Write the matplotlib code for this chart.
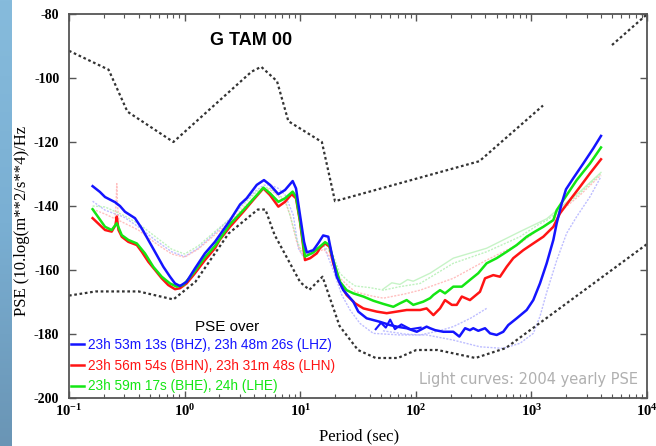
import numpy as np
import matplotlib
matplotlib.use("Agg")
import matplotlib.pyplot as plt
from matplotlib.lines import Line2D
from matplotlib.colors import LinearSegmentedColormap
from matplotlib.ticker import NullFormatter

plt.rcParams['axes.unicode_minus'] = False
plt.rcParams['mathtext.fontset'] = 'custom'
plt.rcParams['mathtext.rm'] = 'Liberation Serif:bold'
plt.rcParams['mathtext.it'] = 'Liberation Serif:bold'
plt.rcParams['mathtext.bf'] = 'Liberation Serif:bold'
plt.rcParams['mathtext.default'] = 'rm'

# noise models (dotted black), nan = gap in the drawn line
nhnm_period = [0.1, 0.22, 0.32, 0.8, 3.8, 4.6, 6.3, 7.9, 15.4, 20, 354.8, 1260, np.nan, 4980, 10000]
nhnm_db = [-91.5, -97.4, -110.5, -120.0, -98.0, -96.5, -101.0, -113.5, -120.0, -138.5, -126.0, -108.6, np.nan, -89.7, -80.1]
nlnm_period = [0.1, 0.17, 0.4, 0.8, 1.24, 2.4, 4.3, 5.0, 6.0, 10.0, 12.0, 15.6, 21.9, 31.6, 45, 70, 101, 154, 328, 600, 10000]
nlnm_db = [-168.0, -166.7, -166.7, -169.2, -163.7, -148.6, -141.1, -141.1, -149.0, -163.8, -166.2, -162.1, -177.5, -185.0,
           -187.5, -187.5, -185.0, -185.0, -187.5, -184.4, -151.9]

# bold curves: PSE of the day
z_period = [0.160, 0.185, 0.205, 0.250, 0.276, 0.305, 0.372, 0.426, 0.485, 0.574, 0.655, 0.748, 0.826, 0.912, 1.04,
            1.23, 1.50, 1.83, 2.02, 2.47, 3.02, 3.44, 4.21, 4.86, 5.48, 6.47, 7.39, 8.61, 9.20, 9.96, 10.8, 11.4,
            13.0, 14.4, 15.8, 17.5, 18.7, 20.7, 23.6, 28.8, 31.8, 37.6, 49.0, 59.8, 68.4, 83.4, 102, 124, 133, 147,
            173, 211, 238, 267, 294, 314, 347, 397, 439, 501, 571, 631, 746, 910, 1038, 1186, 1356, 1548, 1655, 1828,
            1991, 2305, 2812, 3430, 4000]
z_db = [-133.8, -135.6, -137.2, -138.8, -140.0, -141.8, -143.8, -147.0, -150.6, -155.3, -159.0, -162.1, -164.2, -165.0,
        -163.7, -159.5, -154.8, -151.2, -149.0, -144.5, -139.5, -137.6, -133.4, -131.9, -133.4, -136.3, -135.0, -132.2,
        -134.5, -142.8, -151.2, -154.5, -153.8, -151.5, -149.2, -149.6, -154.8, -162.1, -166.3, -169.9, -173.0, -175.1,
        -176.2, -177.2, -177.7, -178.2, -179.3, -177.7, -178.2, -178.8, -179.3, -179.3, -180.8, -178.2, -178.8, -178.2,
        -179.0, -178.2, -179.8, -180.3, -179.3, -177.2, -175.1, -172.5, -169.4, -164.2, -157.9, -150.6, -145.4, -139.2,
        -134.8, -131.3, -126.7, -122.0, -118.1]
lhz_period = [45, 50, 55, 60, 66, 75, 90, 110]
lhz_db = [-178.5, -176.5, -178.0, -175.5, -178.5, -177.0, -178.5, -178.0]

n_period = [0.160, 0.205, 0.234, 0.252, 0.259, 0.268, 0.286, 0.326, 0.386, 0.426, 0.485, 0.555, 0.634, 0.722, 0.826,
            0.912, 1.04, 1.23, 1.50, 1.83, 2.02, 2.47, 3.22, 3.93, 4.80, 5.48, 6.47, 7.39, 8.44, 9.20, 9.96, 11.0,
            12.2, 13.9, 14.8, 16.4, 17.9, 19.3, 22.1, 25.2, 29.8, 35.2, 45.9, 56.0, 68.4, 83.4, 109, 124, 142, 162,
            179, 205, 226, 250, 294, 359, 397, 468, 535, 611, 697, 851, 1038, 1268, 1548, 1767, 2157, 2633, 3213, 4000]
n_db = [-143.8, -147.5, -148.0, -146.0, -143.3, -147.5, -149.6, -151.2, -152.2, -154.3, -157.4, -160.0, -162.6, -164.7,
        -166.0, -165.7, -164.2, -161.0, -156.9, -153.2, -150.5, -146.5, -141.8, -138.1, -134.5, -136.6, -140.2, -138.7,
        -136.3, -137.6, -144.9, -156.9, -156.3, -154.8, -153.2, -151.7, -152.7, -157.9, -164.2, -167.8, -170.4, -172.0,
        -173.0, -173.5, -173.0, -172.5, -172.5, -172.0, -174.1, -172.0, -169.4, -170.9, -170.9, -168.3, -169.4, -166.8,
        -162.6, -161.6, -162.1, -159.0, -156.3, -153.8, -151.7, -149.6, -146.5, -142.3, -138.1, -134.0, -129.8, -125.4]

e_period = [0.160, 0.205, 0.234, 0.259, 0.286, 0.326, 0.386, 0.454, 0.536, 0.634, 0.748, 0.855, 0.975, 1.19, 1.50,
            1.83, 2.47, 3.22, 4.80, 5.48, 6.47, 7.39, 8.61, 9.20, 9.96, 11.0, 13.0, 14.8, 16.4, 17.9, 19.3, 22.1,
            25.2, 28.8, 35.2, 42.9, 52.4, 63.9, 73.0, 83.4, 95.1, 116, 133, 142, 162, 179, 211, 250, 294, 347, 410,
            501, 611, 746, 910, 1074, 1268, 1548, 1655, 2019, 2466, 3213, 4000]
e_db = [-141.0, -146.5, -147.5, -145.4, -149.1, -150.6, -151.7, -154.8, -159.0, -162.1, -164.2, -165.2, -164.7, -161.0,
        -156.0, -152.5, -145.7, -141.3, -134.3, -136.0, -138.7, -137.6, -135.5, -137.1, -144.4, -155.8, -154.5, -152.7,
        -151.3, -152.2, -156.9, -163.7, -166.3, -167.3, -168.3, -169.6, -170.6, -171.5, -170.4, -169.4, -170.9, -169.9,
        -168.8, -167.8, -166.3, -167.3, -165.2, -165.2, -163.1, -161.0, -157.9, -156.3, -154.3, -152.2, -149.6, -148.0,
        -146.5, -144.4, -141.3, -136.6, -131.9, -126.7, -121.7]

# light curves: 2004 yearly PSE
lz_period = [0.16, 0.205, 0.30, 0.398, 0.555, 0.773, 1.0, 1.31, 1.83, 2.47, 3.22, 4.21, 4.86, 5.48, 6.47, 7.39, 8.71,
             9.64, 10.5, 13.0, 16.0, 19.3, 22.9, 27.0, 32.9, 42.9, 73.0, 124, 211, 359, 571, 797, 1038, 1186, 1356,
             1655, 2019, 2466, 3213, 4000]
lz_db = [-138.5, -141.3, -143.5, -146.5, -150.6, -154.3, -155.8, -153.2, -148.5, -144.0, -139.0, -135.0, -133.5, -133.4,
         -134.5, -136.5, -142.8, -153.2, -155.5, -153.3, -152.5, -160.0, -167.8, -172.5, -176.7, -179.8, -180.3, -180.3,
         -181.9, -184.0, -184.5, -182.9, -179.8, -174.5, -167.0, -157.0, -148.5, -143.3, -137.1, -130.8]
lz2_period = [52, 80, 109, 160, 211, 300, 410]
lz2_db = [-179.0, -180.0, -180.3, -179.0, -177.7, -175.0, -172.0]

ln_period = [0.16, 0.205, 0.25, 0.255, 0.259, 0.263, 0.27, 0.398, 0.555, 0.773, 1.0, 1.31, 1.83, 2.47, 3.22, 4.21,
             4.86, 5.48, 6.47, 7.39, 8.17, 9.33, 10.2, 13.0, 16.0, 19.3, 22.0, 26.0, 30.0, 40.0, 52.4, 80, 109, 211,
             410, 797, 1186, 1548, 1767, 2633, 4000]
ln_db = [-141.0, -142.5, -144.0, -140.0, -133.0, -140.0, -144.5, -147.5, -151.5, -155.0, -156.0, -153.5, -149.0, -145.0,
         -140.5, -136.5, -134.5, -134.8, -137.0, -138.5, -142.8, -151.2, -154.8, -155.0, -153.5, -157.0, -162.5, -165.0,
         -166.8, -168.0, -168.8, -167.5, -166.3, -162.6, -156.9, -151.7, -147.0, -144.5, -141.8, -136.6, -130.3]

le_period = [0.16, 0.205, 0.30, 0.398, 0.555, 0.773, 1.0, 1.31, 1.83, 2.47, 3.22, 4.21, 4.86, 5.48, 6.47, 7.39, 8.17,
             9.33, 10.2, 13.0, 16.0, 19.3, 22.0, 26.0, 30.0, 40.0, 52.4, 73, 109, 211, 410, 797, 1186, 1356, 1767,
             2633, 4000]
le_db = [-140.0, -140.3, -143.0, -145.5, -149.5, -153.5, -155.0, -152.5, -148.0, -144.0, -139.5, -135.5, -134.0, -134.5,
         -136.5, -138.0, -143.0, -150.5, -154.0, -154.5, -152.5, -155.5, -161.0, -163.5, -165.0, -165.5, -166.3, -165.2,
         -164.2, -157.9, -154.3, -149.6, -145.5, -144.5, -141.3, -136.0, -129.8]
le2_period = [52, 62, 73, 85, 95, 133, 211, 410, 797, 1356, 1767, 2633, 4000]
le2_db = [-166.0, -164.0, -164.5, -163.0, -163.5, -161.0, -156.3, -153.2, -148.0, -144.0, -140.5, -135.5, -129.5]

legend_labels = ['23h 53m 13s (BHZ), 23h 48m 26s (LHZ)',
                 '23h 56m 54s (BHN), 23h 31m 48s (LHN)',
                 '23h 59m 17s (BHE), 24h (LHE)']
blue, red, green = '#1414ff', '#ff1414', '#14e614'

fig = plt.figure(figsize=(6.56, 4.46), dpi=100)
fig.patch.set_facecolor('white')

# blue strip on the left edge
strip = fig.add_axes([0, 0, 12 / 656, 1])
cm = LinearSegmentedColormap.from_list('strip', ['#86bbdc', '#7aafd3', '#6a95b5'])
strip.imshow(np.linspace(0, 1, 200)[:, None], aspect='auto', cmap=cm)
strip.axis('off')

ax = fig.add_axes([69 / 656, 1 - 398 / 446, 578 / 656, 384 / 446])

ax.plot(lz_period, lz_db, color='#a8a8ff', lw=1.0, ls=(0, (1.5, 1)), alpha=0.75, zorder=1)
ax.plot(lz2_period, lz2_db, color='#a8a8ff', lw=1.0, ls=(0, (1.5, 1)), alpha=0.75, zorder=1)
ax.plot(ln_period, ln_db, color='#ffaaaa', lw=1.0, ls=(0, (1.5, 1)), alpha=0.75, zorder=1)
ax.plot(le_period, le_db, color='#aaeeaa', lw=1.0, ls=(0, (1.5, 1)), alpha=0.75, zorder=1)
ax.plot(le2_period, le2_db, color='#b4f0b4', lw=1.0, alpha=0.75, zorder=1)

ax.plot(nhnm_period, nhnm_db, color='#333333', lw=1.6, ls=(0, (1.2, 1.2)), zorder=2)
ax.plot(nlnm_period, nlnm_db, color='#333333', lw=1.6, ls=(0, (1.2, 1.2)), zorder=2)

ax.plot(n_period, n_db, color=red, lw=1.8, zorder=3)
ax.plot(e_period, e_db, color=green, lw=1.8, zorder=4)
ax.plot(z_period, z_db, color=blue, lw=1.8, zorder=5)
ax.plot(lhz_period, lhz_db, color=blue, lw=1.5, zorder=5)

ax.set_xscale('log')
ax.set_xlim(0.1, 10000)
ax.set_ylim(-200, -80)
ax.set_yticks(range(-200, -79, 20))
ax.set_xticks([0.1, 1, 10, 100, 1000, 10000],
              [r'$10^{-1}$', r'$10^{0}$', r'$10^{1}$', r'$10^{2}$', r'$10^{3}$', r'$10^{4}$'])
ax.xaxis.set_minor_formatter(NullFormatter())
ax.tick_params(which='both', direction='in', top=True, right=True, color='#555555')
ax.tick_params(which='major', length=5, width=1.0, labelsize=10.5)
ax.tick_params(which='minor', length=3, width=0.8)
ax.tick_params(axis='y', pad=7)
ax.tick_params(axis='x', pad=4)
plt.setp(ax.get_yticklabels(), fontfamily='Liberation Serif', fontweight='bold', fontsize=10)
for s in ax.spines.values():
    s.set_color('#555555')
    s.set_linewidth(1.3)

ax.set_xlabel('Period (sec)', fontfamily='Liberation Serif', fontsize=12)
ax.set_ylabel('PSE (10.log(m**2/s**4)/Hz', fontfamily='Liberation Serif', fontsize=12)
ax.xaxis.set_label_coords(0.502, -0.078)
ax.yaxis.set_label_coords(-0.068, 0.46)

ax.text(0.315, 0.932, 'G TAM 00', transform=ax.transAxes, ha='center', va='center',
        fontfamily='Liberation Sans', fontweight='bold', fontsize=13)
ax.text(0.273, 0.186, 'PSE over', transform=ax.transAxes, ha='center', va='center',
        fontfamily='Liberation Sans', fontsize=11)
ax.text(0.984, 0.047, 'Light curves: 2004 yearly PSE', transform=ax.transAxes, ha='right', va='center',
        fontfamily='DejaVu Sans', fontsize=10.5, color='#b0b0b0')

handles = [Line2D([], [], color=c, lw=1.8) for c in (blue, red, green)]
leg = ax.legend(handles, legend_labels, loc='lower left', bbox_to_anchor=(0.003, 0.012), frameon=False,
                prop={'family': 'Liberation Sans', 'size': 9.8}, handlelength=1.0, handletextpad=0.25,
                labelspacing=0.5, borderpad=0, borderaxespad=0)
for t, c in zip(leg.get_texts(), (blue, red, green)):
    t.set_color(c)

fig.savefig('out.png', dpi=100)
